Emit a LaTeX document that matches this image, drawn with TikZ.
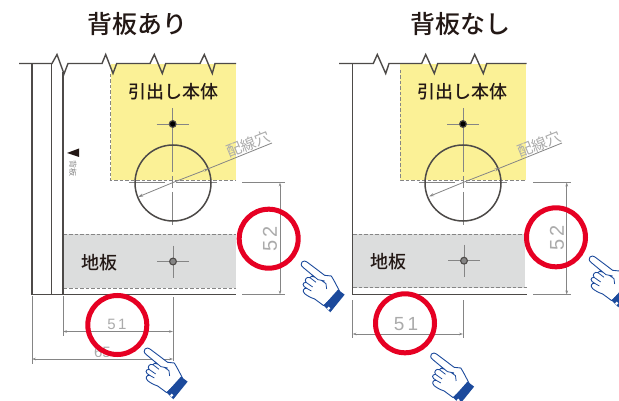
\documentclass[tikz,border=0pt]{standalone}
\usepackage{fontspec}
\usetikzlibrary{arrows.meta}
\setmainfont{Noto Sans CJK JP}
\newfontfamily\jpm{Noto Sans CJK JP Medium}
\setsansfont{Liberation Sans}
\definecolor{ln}{HTML}{4D4A48}
\definecolor{dim}{HTML}{858585}
\definecolor{dimtext}{HTML}{ABABAB}
\definecolor{yel}{HTML}{FBF196}
\definecolor{holeyel}{HTML}{C9BC6A}
\definecolor{gry}{HTML}{DCDDDD}
\definecolor{redc}{HTML}{E60023}
\definecolor{handblue}{HTML}{1C4A9C}
\definecolor{ink}{HTML}{231815}
\tikzset{
  x=1pt,y=-1pt,
  wall/.style={draw=ln,line width=1.4pt},
  thick wall/.style={draw=ln,line width=1.7pt},
  edge dash/.style={draw=dim,line width=0.8pt,dash pattern=on 3.5pt off 2pt},
  centre line/.style={draw=dim,line width=0.9pt},
  dimline/.style={draw=dim,line width=0.7pt},
  dimarrow/.style={draw=dim,line width=0.7pt,{Stealth[length=4pt,width=2.6pt]}-{Stealth[length=4pt,width=2.6pt]}},
  dimnum/.style={text=dimtext,font=\sffamily},
  redring/.style={draw=redc,line width=5pt},
  title/.style={text=ink,font=\jpm\fontsize{25}{25}\selectfont,inner sep=0pt},
  partlabel/.style={text=ink,font=\jpm\fontsize{18}{18}\selectfont,inner sep=0pt},
  holelabel/.style={text=dimtext,font=\fontsize{15}{15}\selectfont,inner sep=0pt,rotate=22},
  pointhand/.pic={
    \begin{scope}[x=0.333pt,y=-0.333pt]
      \path[fill=white,draw=handblue,line width=0.9pt,line join=round]
        (0,-3) .. controls (5,-8) and (10,-6) .. (15,-3) -- (68,37) -- (88,39)
        .. controls (98,55) and (105,70) .. (113,85) -- (65,128) -- (38,108)
        .. controls (25,104) and (14,97) .. (8,92)
        .. controls (0,85) and (4,74) .. (14,76)
        .. controls (0,70) and (0,58) .. (12,58)
        .. controls (6,50) and (14,40) .. (24,44)
        .. controls (24,40) and (30,38) .. (38,42)
        -- (4,14) .. controls (-4,8) and (-4,2) .. (0,-3) -- cycle;
      \draw[handblue,line width=0.8pt] (38,42) -- (48,50) (24,44) -- (42,58) (12,58) -- (32,72) (14,76) -- (28,84)
        (58,52) -- (72,62) -- (74,78) (48,50) -- (68,54);
      \fill[handblue] (128,95) -- (85,148) -- (65,128) -- (108,80) -- cycle;
      \fill[white] (80,136) circle (5);
    \end{scope}
  },
  screwmark/.pic={
    \draw[centre line] (-16,0) -- (16,0) (0,-16) -- (0,16);
    \draw[draw=ln,fill=#1,line width=1.1pt] (0,0) circle (3.4);
  },
  screwmark/.default=holeyel,
}
\begin{document}
\begin{tikzpicture}
\clip (0,0) rectangle (619,401);
\fill[white] (0,0) rectangle (619,401);

% ---------- left panel ----------
\fill[yel] (110.5,64) rectangle (236,180.5);
\draw[edge dash] (110.5,74) -- (110.5,180.5) -- (236,180.5);
\fill[gry] (63.5,234) rectangle (235.5,288);
\draw[edge dash] (63.5,234) -- (236,234) (63.5,288.5) -- (236,288.5);
\draw[wall,line join=miter] (19,63.5) -- (52,63.5) -- (57,54.5) -- (63,71) -- (64,74) -- (68,63.5) -- (102,63.5) -- (105.7,54.5) -- (113,73.5) -- (116.7,63.5) -- (150,63.5) -- (154.3,54.5) -- (162.3,73.5) -- (165.7,63.5) -- (200,63.5) -- (204.3,54.5) -- (212.3,73.5) -- (215,63.5) -- (236,63.5);
\draw[wall] (32,63.5) -- (32,294.5) (51.5,63.5) -- (51.5,294.5);
\draw[thick wall] (63,72) -- (63,294.5) (32,294.5) -- (236,294.5);
\node[title] (titleA) at (137.5,24) {背板あり};
\node[partlabel] (drawerA) at (173.3,92) {引出し本体};
\node[partlabel] (floorA) at (99.5,262.5) {地板};
\pic at (172.7,124) {screwmark};
\pic at (173,261.5) {screwmark=dim};
\draw[centre line] (172.7,140) -- (172.7,172) (172.7,176) -- (172.7,188) (172.7,192) -- (172.7,225) (129,182) -- (165,182) (176,182) -- (217,182);
\draw[draw=ln,line width=1.5pt] (173,183) circle (38);
\draw[dim,line width=0.8pt,{Stealth[length=5pt,width=3pt]}-] (138,197) -- (173,182.5);
\draw[dim,line width=0.8pt,{Stealth[length=5pt,width=3pt,reversed]}-] (204,170.5) -- (272,143);
\draw[dim,line width=0.8pt] (173,182.5) -- (204,170.5);
\node[holelabel] (holeA) at (248,144) {配線穴};
\fill[ink] (67,153) -- (79,148.5) -- (79,157) -- cycle;
\node[text=dim,font=\fontsize{8}{8}\selectfont,rotate=-90,inner sep=0pt] (backA) at (73,169) {背板};
\draw[dimline] (242,182.5) -- (285,182.5) (242,294.5) -- (285,294.5);
\draw[dimarrow] (280,182.5) -- (280,294.5);
\draw[dimline] (32,296) -- (32,364) (63,296) -- (63,336) (173,297) -- (173,361);
\draw[dimarrow] (63,331.5) -- (173,331.5);
\draw[dimarrow] (32,359) -- (173,359);
\node[dimnum,font=\sffamily\fontsize{20}{20}\selectfont] (v52a) at (270,239) [rotate=90] {5\,2};
\node[dimnum,font=\sffamily\fontsize{15}{15}\selectfont] (v51a) at (117,324) {5\,1};
\node[dimnum,font=\sffamily\fontsize{15}{15}\selectfont] (v65a) at (102.5,352) {65};
\fill[white] (90,356.5) rectangle (120,358.4);
\draw[redring] (268.7,238.7) circle (29.5);
\draw[redring] (117.3,325) circle (29.5);
\pic at (145,350) {pointhand};
\pic at (302,263) {pointhand};

% ---------- right panel ----------
\fill[yel] (400,64) rectangle (526,180);
\draw[edge dash] (400,70) -- (400,180) -- (526,180);
\fill[gry] (353,234) rectangle (525,287.5);
\draw[edge dash] (353,234) -- (526,234) (353,287.5) -- (527,287.5);
\draw[wall,line join=miter] (339,63.5) -- (373.3,63.5) -- (377.3,54.5) -- (385.7,73.5) -- (389,63.5) -- (421.7,63.5) -- (425.7,54.5) -- (434.3,73.5) -- (437.7,63.5) -- (470.7,63.5) -- (474.7,54.5) -- (483.3,73.5) -- (486.7,63.5) -- (526.7,63.5);
\draw[thick wall] (352.5,63.5) -- (352.5,294.5) -- (527,294.5);
\node[title] (titleB) at (460,24) {背板なし};
\node[partlabel] (drawerB) at (462.7,92) {引出し本体};
\node[partlabel] (floorB) at (388.3,262) {地板};
\pic at (463,124) {screwmark};
\pic at (464,260.7) {screwmark=dim};
\draw[centre line] (463,140) -- (463,172) (463,176) -- (463,188) (463,192) -- (463,225) (419,182) -- (455,182) (466,182) -- (507,182);
\draw[draw=ln,line width=1.5pt] (463,183) circle (38);
\draw[dim,line width=0.8pt,{Stealth[length=5pt,width=3pt]}-] (429,196.5) -- (463,182.5);
\draw[dim,line width=0.8pt,{Stealth[length=5pt,width=3pt,reversed]}-] (495,170) -- (562,143);
\draw[dim,line width=0.8pt] (463,182.5) -- (495,170);
\node[holelabel] (holeB) at (539,144) {配線穴};
\draw[dimline] (533,182.5) -- (571,182.5) (533,294.5) -- (571,294.5);
\draw[dimarrow] (566.7,182.5) -- (566.7,294.5);
\draw[dimline] (352.5,300) -- (352.5,338) (463,300) -- (463,338);
\draw[dimarrow] (352.5,334) -- (463,334);
\node[dimnum,font=\sffamily\fontsize{20}{20}\selectfont] (v52b) at (557,238) [rotate=90] {5\,2};
\node[dimnum,font=\sffamily\fontsize{19}{19}\selectfont] (v51b) at (406,324) {5\,1};
\draw[redring] (556,237.3) circle (29.5);
\draw[redring] (405,323.3) circle (29.5);
\pic at (431.5,355) {pointhand};
\pic at (590,258) {pointhand};
\end{tikzpicture}
\end{document}
